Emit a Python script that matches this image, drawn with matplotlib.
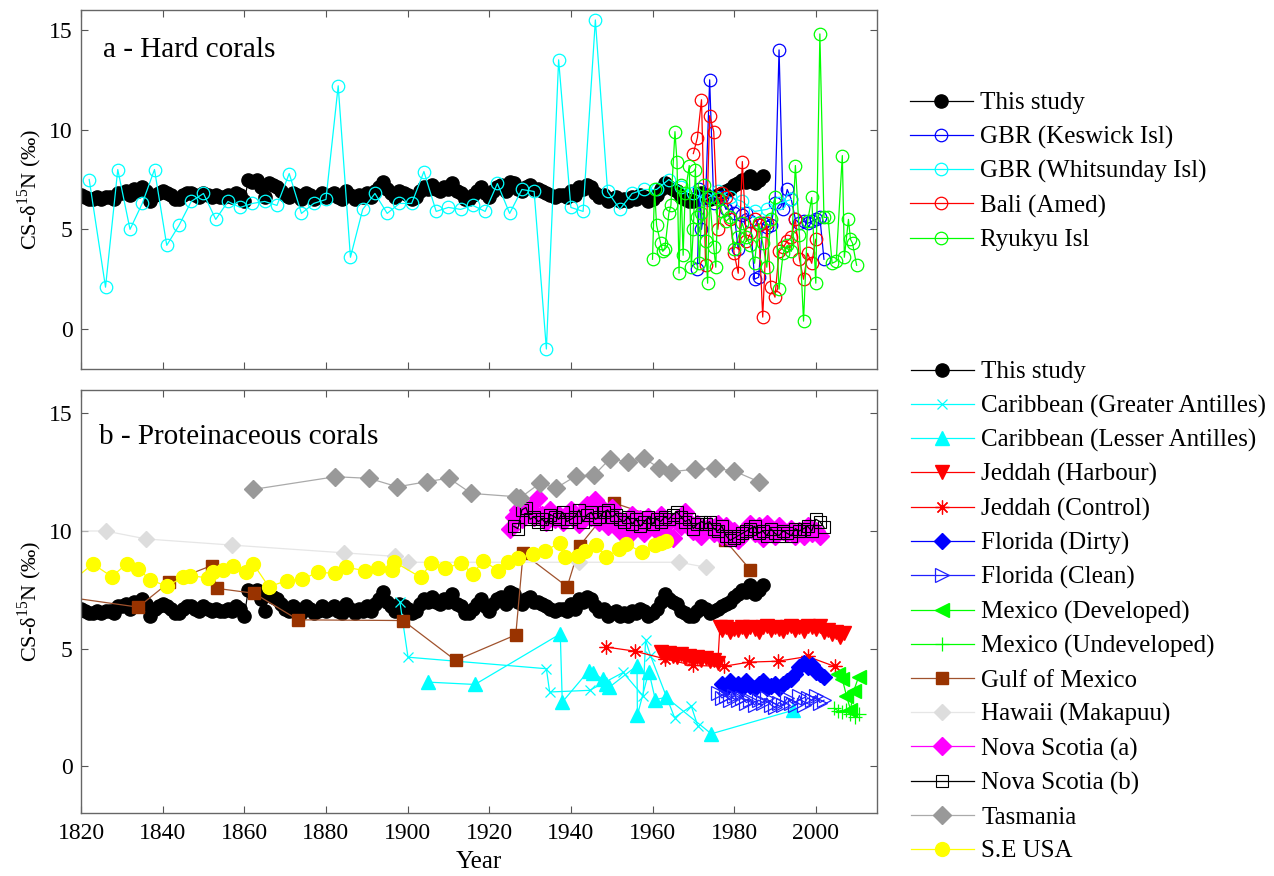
import numpy as np
import matplotlib
matplotlib.use("Agg")
import matplotlib.pyplot as plt

plt.rcParams['font.family'] = ['Liberation Serif', 'DejaVu Serif']
plt.rcParams['mathtext.fontset'] = 'custom'
plt.rcParams['mathtext.rm'] = 'Liberation Serif'
plt.rcParams['axes.unicode_minus'] = False

# ---------------- data: this study (shown in both panels) ----------------
study_start = 1820
study_vals = [
    6.7, 6.6, 6.5, 6.5, 6.6, 6.5, 6.6, 6.6, 6.5, 6.8,
    6.8, 6.9, 6.7, 7.0, 6.9, 7.1, 6.9, 6.4, 6.7, 6.8,
    6.9, 6.8, 6.7, 6.5, 6.5, 6.7, 6.8, 6.8, 6.7, 6.6,
    6.8, 6.7, 6.6, 6.7, 6.6, 6.6, 6.7, 6.6, 6.8, 6.7,
    6.4, 7.5, 7.4, 7.5, 7.1, 6.6, 7.3, 7.2, 7.1, 6.9,
    6.7, 6.6, 6.8, 6.7, 6.5, 6.8, 6.7, 6.5, 6.6, 6.8,
    6.6, 6.7, 6.8, 6.6, 6.5, 6.9, 6.7, 6.5, 6.7, 6.6,
    6.8, 6.6, 6.9, 7.1, 7.4, 7.0, 6.8, 6.6, 6.9, 6.8,
    6.7, 6.5, 6.6, 6.9, 7.1, 7.0, 7.2, 7.0, 6.9, 7.1,
    7.0, 7.3, 6.9, 6.8, 6.5, 6.5, 6.7, 6.9, 7.1, 6.8,
    6.6, 6.9, 7.1, 7.2, 6.9, 7.4, 7.3, 7.0, 6.9, 7.1,
    7.2, 7.0, 7.0, 6.9, 6.8, 6.7, 6.6, 6.7, 6.7, 6.6,
    6.9, 6.7, 7.1, 7.0, 7.2, 7.1, 6.8, 6.6, 6.7, 6.4,
    6.5, 6.6, 6.4, 6.5, 6.4, 6.6, 6.5, 6.7, 6.6, 6.4,
    6.5, 6.7, 7.0, 7.3, 7.1, 7.0, 6.9, 6.6, 6.5, 6.4,
    6.4, 6.6, 6.8, 6.7, 6.5, 6.6, 6.7, 6.8, 6.9, 7.0,
    7.2, 7.3, 7.5, 7.4, 7.7, 7.3, 7.5, 7.7,
]
study_years = np.arange(study_start, study_start + len(study_vals))

# ---------------- panel a: hard corals ----------------
keswick_years = [1971, 1971.5, 1972, 1973, 1974, 1975, 1976, 1977, 1978, 1979, 1980,
                 1981, 1982, 1983, 1984, 1985, 1986, 1987, 1988, 1989, 1990, 1991,
                 1992, 1993, 1994, 1995, 1996, 1997, 1998, 1999, 2000, 2001, 2002]
keswick_vals = [3.0, 7.0, 5.0, 6.5, 12.5, 6.3, 6.5, 6.6, 6.0, 6.3, 5.8,
                4.0, 5.7, 5.8, 5.4, 2.5, 2.6, 5.3, 5.1, 5.2, 6.3, 14.0,
                6.0, 7.0, 6.5, 5.5, 5.3, 5.4, 5.3, 5.4, 5.5, 5.6, 3.5]

whitsunday_years = [1822, 1826, 1829, 1832, 1835, 1838, 1841, 1844, 1847, 1850,
                    1853, 1856, 1859, 1862, 1865, 1868, 1871, 1874, 1877, 1880,
                    1883, 1886, 1889, 1892, 1895, 1898, 1901, 1904, 1907, 1910,
                    1913, 1916, 1919, 1922, 1925, 1928, 1931, 1934, 1937, 1940,
                    1943, 1946, 1949, 1952, 1955, 1958, 1961, 1964, 1967, 1970,
                    1973, 1976, 1979, 1982, 1985, 1988, 1991, 1994]
whitsunday_vals = [7.5, 2.1, 8.0, 5.0, 6.3, 8.0, 4.2, 5.2, 6.4, 6.8,
                   5.5, 6.4, 6.1, 6.3, 6.4, 6.2, 7.8, 5.8, 6.3, 6.5,
                   12.2, 3.6, 6.0, 6.8, 5.8, 6.3, 6.3, 7.9, 5.9, 6.1,
                   6.0, 6.2, 5.9, 7.3, 5.8, 7.0, 6.9, -1.0, 13.5, 6.1,
                   5.9, 15.5, 6.9, 6.0, 6.8, 7.0, 7.0, 7.5, 7.1, 6.8,
                   6.5, 6.9, 6.6, 6.4, 5.9, 6.0, 6.3, 6.5]

bali_years = list(range(1970, 2001))
bali_vals = [8.8, 9.6, 11.5, 3.2, 10.7, 9.9, 5.0, 6.8, 6.6, 5.5,
             3.8, 2.8, 8.4, 4.4, 4.8, 5.5, 5.2, 0.6, 5.3, 2.1,
             1.6, 3.9, 4.1, 4.4, 4.6, 5.5, 3.5, 2.5, 3.8, 3.3, 4.5]

ryukyu_years = [1960, 1960.5, 1961, 1962, 1962.5, 1963, 1964, 1964.5, 1965.5, 1966,
                1966.5, 1967, 1967.5, 1968, 1969, 1969.5, 1970, 1970.5, 1971, 1971.5,
                1972, 1972.5, 1973, 1973.5, 1974, 1975, 1975.5, 1976, 1977, 1978,
                1979, 1980, 1981, 1982, 1983, 1984, 1985, 1986, 1987, 1988,
                1989, 1990, 1991, 1992, 1993, 1994, 1995, 1996, 1997, 1998,
                1999, 2000, 2001, 2002, 2003, 2004, 2005, 2006.5, 2007, 2008,
                2008.5, 2009, 2010]
ryukyu_vals = [3.5, 7.0, 5.2, 4.3, 3.9, 4.0, 5.8, 6.2, 9.9, 8.4,
               2.8, 7.2, 3.7, 6.8, 8.2, 3.1, 5.0, 8.0, 5.6, 3.3,
               5.8, 7.2, 4.4, 2.3, 6.6, 4.1, 3.1, 6.5, 5.9, 5.4,
               5.6, 4.0, 4.6, 5.3, 4.6, 4.2, 3.3, 5.3, 4.3, 3.1,
               5.5, 6.6, 2.0, 3.8, 4.2, 3.9, 8.2, 4.7, 0.4, 5.4,
               6.6, 2.3, 14.8, 5.6, 5.6, 3.3, 3.4, 8.7, 3.6, 5.5,
               4.5, 4.3, 3.2]

# ---------------- panel b: proteinaceous corals ----------------
carib_ga_years = [1898.1, 1900.1, 1934, 1934.8, 1944.6, 1952.8, 1957.7, 1958.3, 1959.5,
                  1965.4, 1969.5, 1971.1]
carib_ga_vals = [7.0, 4.63, 4.14, 3.15, 3.22, 3.98, 2.98, 5.35, 4.7, 2.06, 2.55, 1.7]

carib_la_years = [1905, 1916.5, 1937.4, 1937.9, 1944.4, 1945.5, 1947.8, 1948.6, 1949.4,
                  1956.2, 1956.3, 1959.1, 1960.7, 1963.3, 1974.4, 1994.4]
carib_la_vals = [3.57, 3.47, 5.62, 2.72, 4.06, 3.95, 3.7, 3.49, 3.35,
                 4.27, 2.16, 4.02, 2.82, 2.93, 1.37, 2.37]

jeddah_h_years = list(range(1962, 1977)) + [1976.5] + list(range(1977, 2008))
jeddah_h_vals = [4.85, 4.7, 4.8, 4.7, 4.65, 4.75, 4.6, 4.7, 4.55, 4.65, 4.5, 4.6, 4.45, 4.5, 4.4,
                 5.9,
                 5.8, 5.9, 5.7, 5.85, 5.8, 5.9, 5.75, 5.9, 5.85, 5.7, 5.9, 5.95, 5.8, 5.9,
                 5.85, 5.75, 5.9, 5.95, 5.8, 5.9, 5.75, 5.95, 5.9, 5.85, 5.95, 5.7, 5.8,
                 5.6, 5.7, 5.5, 5.65]

jeddah_c_years = [1948.7, 1955.6, 1963, 1970, 1977.4, 1983.6, 1990.7, 1998, 2004.6]
jeddah_c_vals = [5.06, 4.89, 4.56, 4.28, 4.24, 4.42, 4.46, 4.66, 4.24]

florida_d_years = list(range(1977, 2003))
florida_d_vals = [3.5, 3.3, 3.6, 3.4, 3.5, 3.3, 3.6, 3.4, 3.3, 3.5,
                  3.6, 3.3, 3.4, 3.5, 3.3, 3.5, 3.6, 3.7, 3.9, 4.2,
                  4.4, 4.2, 4.3, 4.0, 3.9, 3.8]

florida_c_years = list(range(1976, 2003))
florida_c_vals = [3.1, 2.9, 3.0, 2.8, 3.0, 2.8, 2.9, 2.7, 2.8, 2.6,
                  2.8, 2.7, 2.9, 2.6, 2.5, 2.7, 2.6, 2.9, 2.7, 2.6,
                  3.0, 2.6, 2.9, 2.8, 3.0, 2.7, 2.8]

mexico_d_years = [2005.5, 2006.5, 2007.5, 2008.5, 2009.3, 2010.5]
mexico_d_vals = [3.9, 3.7, 3.0, 2.4, 3.2, 3.8]

mexico_u_years = [2004.5, 2005.5, 2006.5, 2007.5, 2008.5, 2009.5, 2010.5]
mexico_u_vals = [2.45, 2.35, 2.3, 2.4, 2.2, 2.1, 2.2]

gulf_years = [1810, 1834, 1841.6, 1852, 1853.2, 1862.4, 1873.2, 1898.9, 1911.8,
              1926.5, 1928.3, 1939.1, 1942.2, 1950.6, 1977.7, 1983.9]
gulf_vals = [7.35, 6.76, 7.82, 8.53, 7.56, 7.35, 6.22, 6.19, 4.49,
             5.58, 9.05, 7.63, 9.38, 11.19, 9.62, 8.36]

hawaii_years = [1812, 1826, 1836, 1857, 1884.5, 1897, 1900, 1942, 1966.5, 1973]
hawaii_vals = [10.0, 10.0, 9.66, 9.4, 9.07, 8.92, 8.67, 8.67, 8.67, 8.46]

nova_a_years = list(range(1925, 2002))
nova_a_vals = [10.1, 10.6, 10.9, 10.5, 10.8, 11.0, 10.6, 11.4, 10.7, 10.4,
               10.9, 10.5, 10.7, 10.4, 10.6, 10.9, 10.5, 10.3, 10.8, 11.1,
               10.6, 11.3, 10.4, 10.9, 10.2, 11.0,
               10.6, 10.0, 10.4, 9.8, 10.7, 10.2, 10.5, 9.9, 10.6, 10.3,
               10.0, 10.7, 9.9, 10.4, 9.7, 10.5, 10.2, 10.8, 10.4, 10.0,
               10.3, 9.8, 10.1, 10.2, 9.9, 10.3, 9.8, 10.2, 9.7, 10.0,
               9.6, 9.8, 10.1, 10.3, 9.9, 10.2, 9.7, 10.3, 10.1, 9.8, 10.2,
               10.0, 9.9, 10.1, 9.8, 10.0, 9.8, 10.2, 9.9, 10.0, 9.8]

nova_b_years = list(range(1926, 2003))
nova_b_vals = [10.2, 10.1, 10.9, 11.0, 10.5, 10.6, 10.4, 10.5, 10.3, 10.7,
               10.6, 10.5, 10.8, 10.4, 10.5, 10.6, 10.9, 10.4, 10.7, 10.8,
               10.5, 10.6, 10.8, 10.9, 10.6, 10.7, 10.5, 10.4, 10.6, 10.3,
               10.5, 10.2, 10.4, 10.6, 10.3, 10.5, 10.4, 10.6, 10.5, 10.7,
               10.8, 10.6, 10.4, 10.5, 10.1, 10.3, 10.4, 10.3, 10.4, 10.1,
               10.0, 10.2, 9.8, 9.6, 9.7, 9.8, 9.9, 10.0, 10.1, 10.2,
               9.9, 10.0, 9.8, 10.1, 9.9, 9.8, 10.0, 9.9, 9.8, 10.1,
               10.0, 10.1, 10.2, 10.0, 10.5, 10.4, 10.15]

tasmania_years = [1862.2, 1882.3, 1890.6, 1897.5, 1904.8, 1910.1, 1915.6, 1926.5, 1927.5,
                  1932.4, 1936.4, 1941.3, 1945.7, 1949.5, 1954, 1957.9, 1961.5, 1964.6,
                  1970.3, 1975.4, 1979.9, 1986]
tasmania_vals = [11.77, 12.31, 12.24, 11.88, 12.1, 12.25, 11.6, 11.46, 11.4,
                 12.03, 11.83, 12.35, 12.38, 13.06, 12.95, 13.09, 12.7, 12.52,
                 12.63, 12.66, 12.56, 12.1]

seusa_years = [1818, 1822.9, 1827.5, 1831.2, 1834, 1836.9, 1841, 1845, 1846.8, 1851.2,
               1852.4, 1854.9, 1857.3, 1860.5, 1862.2, 1866, 1870.5, 1874.2, 1878.1, 1882.2,
               1884.9, 1889.6, 1892.8, 1896.1, 1896.6, 1903.2, 1905.8, 1909.1, 1913.1, 1916,
               1918.5, 1922.2, 1924.6, 1927, 1930.7, 1933.6, 1937.3, 1938.5, 1941.8, 1943.4,
               1946.2, 1948.7, 1951.9, 1953.6, 1957.4, 1960.5, 1962.2, 1963.2]
seusa_vals = [7.9, 8.6, 8.06, 8.6, 8.39, 7.93, 7.65, 8.03, 8.1, 8.0,
              8.24, 8.34, 8.53, 8.24, 8.6, 7.63, 7.89, 7.96, 8.24, 8.2,
              8.46, 8.31, 8.43, 8.34, 8.7, 8.03, 8.63, 8.41, 8.63, 8.17,
              8.74, 8.31, 8.7, 8.84, 9.02, 9.16, 9.49, 8.88, 8.95, 9.14,
              9.4, 8.88, 9.24, 9.45, 9.1, 9.4, 9.49, 9.59]

TICK_FS = 17
LEG_FS = 18
YLABEL = 'CS-δ$^{15}$N (‰)'

fig = plt.figure(figsize=(12.74, 8.76), dpi=100)
ax_a = fig.add_axes([0.0636, 0.5788, 0.6248, 0.4098])
ax_b = fig.add_axes([0.0636, 0.0719, 0.6248, 0.4829])


def style_axes(ax, show_xlabels):
    ax.set_xlim(1820, 2015)
    ax.set_ylim(-2, 16)
    ax.set_xticks(range(1820, 2001, 20))
    ax.set_yticks([0, 5, 10, 15])
    ax.tick_params(direction='in', top=True, right=True, length=5,
                   labelsize=TICK_FS, color='#555555')
    ax.tick_params(axis='y', pad=6)
    ax.tick_params(axis='x', pad=7)
    if not show_xlabels:
        ax.tick_params(labelbottom=False)
    for sp in ax.spines.values():
        sp.set_color('#666666')
        sp.set_linewidth(1.0)
    ax.set_ylabel(YLABEL, fontsize=16, labelpad=4)


lw = 0.9
asterisk = (8, 2, 0)

# panel a
ax_a.plot(study_years, study_vals, '-o', color='black', mfc='black', mec='black',
          ms=9.5, lw=lw, label='This study')
ax_a.plot(keswick_years, keswick_vals, '-o', color='#0000ff', mfc='none', mec='#0000ff',
          ms=9, mew=0.9, lw=lw, label='GBR (Keswick Isl)')
ax_a.plot(whitsunday_years, whitsunday_vals, '-o', color='#00ffff', mfc='none', mec='#00ffff',
          ms=9, mew=0.9, lw=lw, label='GBR (Whitsunday Isl)')
ax_a.plot(bali_years, bali_vals, '-o', color='#ff0000', mfc='none', mec='#ff0000',
          ms=9, mew=0.9, lw=lw, label='Bali (Amed)')
ax_a.plot(ryukyu_years, ryukyu_vals, '-o', color='#00ff00', mfc='none', mec='#00ff00',
          ms=9, mew=0.9, lw=lw, label='Ryukyu Isl')
style_axes(ax_a, False)
ax_a.text(0.028, 0.889, 'a - Hard corals', transform=ax_a.transAxes,
          fontsize=21, va='center', ha='left')

# panel b
ax_b.plot(study_years, study_vals, '-o', color='black', mfc='black', mec='black',
          ms=9.5, lw=lw, label='This study')
ax_b.plot(carib_ga_years, carib_ga_vals, '-x', color='#00ffff', ms=7, mew=0.9, lw=lw,
          label='Caribbean (Greater Antilles)')
ax_b.plot(carib_la_years, carib_la_vals, '-^', color='#00ffff', mfc='#00ffff', mec='#00ffff',
          ms=10, lw=lw, label='Caribbean (Lesser Antilles)')
ax_b.plot(jeddah_h_years, jeddah_h_vals, '-v', color='#ff0000', mfc='#ff0000', mec='#ff0000',
          ms=10, lw=lw, label='Jeddah (Harbour)')
ax_b.plot(jeddah_c_years, jeddah_c_vals, '-', marker=asterisk, color='#ff0000', mec='#ff0000',
          ms=10, mew=0.9, lw=lw, label='Jeddah (Control)')
ax_b.plot(florida_d_years, florida_d_vals, '-D', color='#0000ff', mfc='#0000ff', mec='#0000ff',
          ms=8, lw=lw, label='Florida (Dirty)')
ax_b.plot(florida_c_years, florida_c_vals, '->', color='#2020ff', mfc='none', mec='#2020ff',
          ms=10, mew=0.9, lw=lw, label='Florida (Clean)')
ax_b.plot(mexico_d_years, mexico_d_vals, '-<', color='#00ff00', mfc='#00ff00', mec='#00ff00',
          ms=10, lw=lw, label='Mexico (Developed)')
ax_b.plot(mexico_u_years, mexico_u_vals, '-+', color='#00ff00', ms=10, mew=0.9, lw=lw,
          label='Mexico (Undeveloped)')
ax_b.plot(gulf_years, gulf_vals, '-s', color='#a0522d', mfc='#993300', mec='#993300',
          ms=8, lw=lw, label='Gulf of Mexico')
ax_b.plot(hawaii_years, hawaii_vals, '-D', color='#e6e6e6', mfc='#dddddd', mec='#dddddd',
          ms=8, lw=lw, label='Hawaii (Makapuu)')
ax_b.plot(nova_a_years, nova_a_vals, '-D', color='#ff00ff', mfc='#ff00ff', mec='#ff00ff',
          ms=9, lw=lw, label='Nova Scotia (a)')
ax_b.plot(nova_b_years, nova_b_vals, '-s', color='black', mfc='none', mec='black',
          ms=8, mew=0.8, lw=lw, label='Nova Scotia (b)')
ax_b.plot(tasmania_years, tasmania_vals, '-D', color='#aaaaaa', mfc='#999999', mec='#999999',
          ms=9, lw=lw, label='Tasmania')
ax_b.plot(seusa_years, seusa_vals, '-o', color='#ffff00', mfc='#ffff00', mec='#ffff00',
          ms=10, lw=lw, label='S.E USA')
style_axes(ax_b, True)
ax_b.set_xlabel('Year', fontsize=LEG_FS, labelpad=5)
ax_b.text(0.023, 0.889, 'b - Proteinaceous corals', transform=ax_b.transAxes,
          fontsize=21, va='center', ha='left')

leg_kw = dict(frameon=False, fontsize=LEG_FS, loc='upper left', borderpad=0, borderaxespad=0,
              handlelength=2.5, handletextpad=0.3, labelspacing=0.45,
              bbox_transform=fig.transFigure)
ax_a.legend(bbox_to_anchor=(0.7143, 0.895), **leg_kw)
ax_b.legend(bbox_to_anchor=(0.7151, 0.588), **leg_kw)

fig.savefig('out.png', dpi=100)
